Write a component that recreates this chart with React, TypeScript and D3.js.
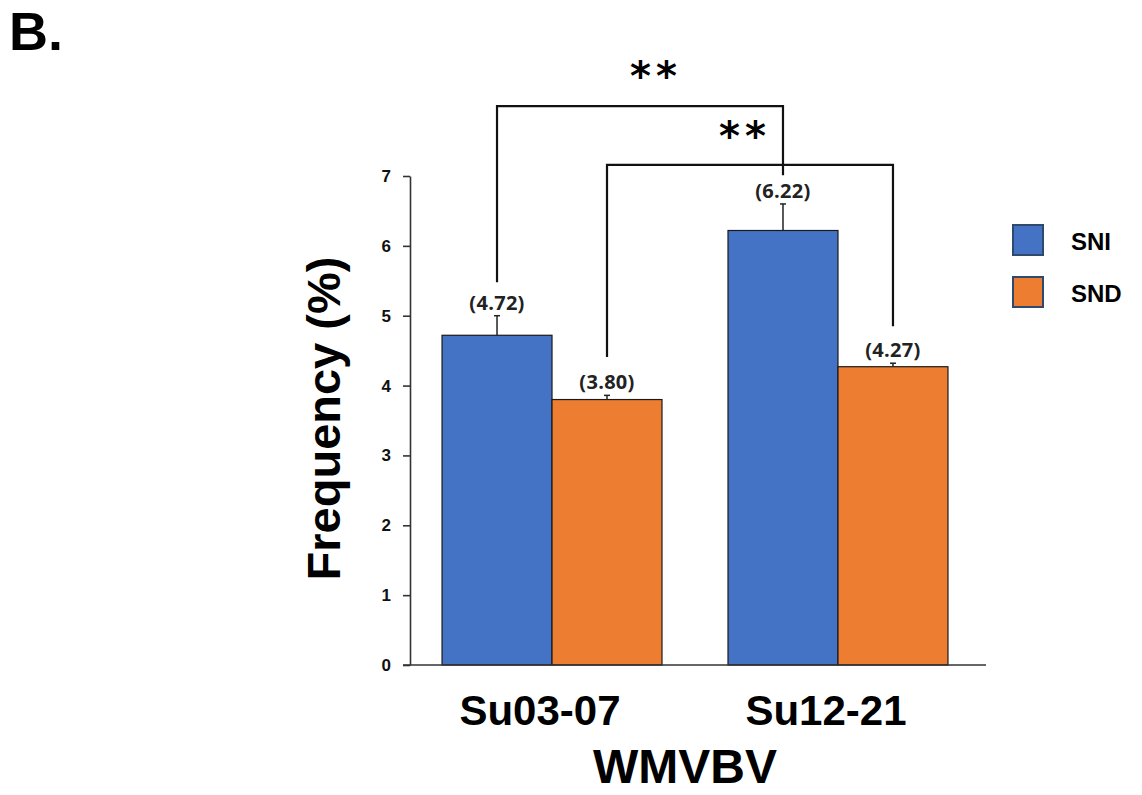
import React, { useRef, useEffect } from 'react'
import * as d3 from 'd3'

const categories = ['Su03-07', 'Su12-21']
const seriesNames = ['SNI', 'SND']
const sniValues = [4.72, 6.22]
const sndValues = [3.80, 4.27]
const sniErrors = [0.28, 0.38]
const sndErrors = [0.06, 0.05]
const yTicks = [0, 1, 2, 3, 4, 5, 6, 7]
const colors = ['#4472C4', '#ED7D31']

export default function App() {
    const ref = useRef<SVGSVGElement | null>(null)
    const w = 1142
    const h = 795

    useEffect(() => {
        document.body.style.margin = '0'
        const svg = d3.select(ref.current)
        svg.selectAll('*').remove()

        const x0 = d3.scaleBand()
            .domain(categories)
            .range([410, 980])
            .paddingInner(0.2308)
            .paddingOuter(0.112)
        const x1 = d3.scaleBand()
            .domain(seriesNames)
            .range([0, x0.bandwidth()])
        const y = d3.scaleLinear().domain([0, 7]).range([665, 176])

        const rows = seriesNames.flatMap((s, si) => categories.map((c, ci) => ({
            cat: c,
            series: s,
            si,
            value: si === 0 ? sniValues[ci] : sndValues[ci],
            err: si === 0 ? sniErrors[ci] : sndErrors[ci],
        })))
        const cx = (c: string, s: string) => (x0(c) as number) + (x1(s) as number) + x1.bandwidth() / 2

        // "B." panel letter
        svg.append('text')
            .attr('x', 9)
            .attr('y', 50)
            .style('font', 'bold 54px "Liberation Sans", Arial, sans-serif')
            .text('B.')

        // bars
        svg.append('g').selectAll('rect')
            .data(rows)
            .enter()
            .append('rect')
            .attr('x', d => (x0(d.cat) as number) + (x1(d.series) as number))
            .attr('y', d => y(d.value))
            .attr('width', x1.bandwidth())
            .attr('height', d => y(0) - y(d.value))
            .attr('fill', d => colors[d.si])
            .attr('stroke', '#1a1a1a')
            .attr('stroke-width', 1.2)

        // error bars
        const eb = svg.append('g').attr('stroke', '#222').attr('stroke-width', 1.5)
        rows.forEach(d => {
            const xc = cx(d.cat, d.series)
            eb.append('line').attr('x1', xc).attr('x2', xc).attr('y1', y(d.value)).attr('y2', y(d.value + d.err))
            eb.append('line').attr('x1', xc - 3).attr('x2', xc + 3).attr('y1', y(d.value + d.err)).attr('y2', y(d.value + d.err))
        })

        // value labels
        svg.append('g').selectAll('text')
            .data(rows)
            .enter()
            .append('text')
            .attr('x', d => cx(d.cat, d.series))
            .attr('y', d => y(d.value + d.err) - 6)
            .attr('text-anchor', 'middle')
            .style('font', 'bold 20px "Open Sans", sans-serif')
            .style('letter-spacing', '0.3px')
            .attr('fill', '#222')
            .text(d => `(${d.value.toFixed(2)})`)

        // axes
        const yAxis = d3.axisLeft(y)
            .tickValues(yTicks)
            .tickFormat(d3.format('d'))
            .tickSize(7)
            .tickSizeOuter(0)
            .tickPadding(12)
        const ga = svg.append('g').attr('transform', 'translate(410,0)').call(yAxis)
        ga.selectAll('path, line').attr('stroke', '#333').attr('stroke-width', 1.6)
        ga.selectAll('text')
            .style('font', 'bold 17px "Liberation Sans", Arial, sans-serif')
            .attr('fill', '#111')

        svg.append('line')
            .attr('x1', 403).attr('x2', 986)
            .attr('y1', y(0)).attr('y2', y(0))
            .attr('stroke', '#333').attr('stroke-width', 1.6)

        // category labels
        svg.append('g').selectAll('text')
            .data(categories)
            .enter()
            .append('text')
            .attr('x', d => (x0(d) as number) + x0.bandwidth() / 2 - 12)
            .attr('y', 725)
            .attr('text-anchor', 'middle')
            .style('font', 'bold 42px "Liberation Sans", Arial, sans-serif')
            .text(d => d)

        svg.append('text')
            .attr('x', 685)
            .attr('y', 783)
            .attr('text-anchor', 'middle')
            .style('font', 'bold 48px "Liberation Sans", Arial, sans-serif')
            .text('WMVBV')

        svg.append('text')
            .attr('transform', `translate(340,${(y(0) + y(7)) / 2 - 2}) rotate(-90)`)
            .attr('text-anchor', 'middle')
            .style('font', 'bold 47px "Liberation Sans", Arial, sans-serif')
            .text('Frequency (%)')

        // significance brackets (heights in axis units)
        const brackets = [
            { a: [0, 'SNI'], b: [1, 'SNI'], top: 8.0, leftEnd: 5.48, rightEnd: 7.01, starX: 656, starY: 8.23 },
            { a: [0, 'SND'], b: [1, 'SND'], top: 7.16, leftEnd: 4.41, rightEnd: 4.85, starX: 745, starY: 7.37 },
        ]
        brackets.forEach(bk => {
            const xa = cx(categories[bk.a[0] as number], bk.a[1] as string)
            const xb = cx(categories[bk.b[0] as number], bk.b[1] as string)
            svg.append('path')
                .attr('d', `M${xa},${y(bk.leftEnd)}V${y(bk.top)}H${xb}V${y(bk.rightEnd)}`)
                .attr('fill', 'none')
                .attr('stroke', '#111')
                .attr('stroke-width', 2.2)
            svg.append('text')
                .attr('x', bk.starX)
                .attr('y', y(bk.starY))
                .attr('text-anchor', 'middle')
                .style('font', 'bold 40px "DejaVu Sans", sans-serif')
                .style('letter-spacing', '5px')
                .text('**')
        })

        // legend
        const lg = svg.append('g').selectAll('g')
            .data(seriesNames)
            .enter()
            .append('g')
            .attr('transform', (d, i) => `translate(1013,${225 + i * 52})`)
        lg.append('rect')
            .attr('width', 30).attr('height', 30)
            .attr('fill', (d, i) => colors[i])
            .attr('stroke', '#2F4A6E')
            .attr('stroke-width', 2)
        lg.append('text')
            .attr('x', 58)
            .attr('y', 25)
            .style('font', 'bold 24px "Liberation Sans", Arial, sans-serif')
            .text(d => d)
    }, [])

    return (
        <div className="parent">
            <svg ref={ref} width={w} height={h} style={{ display: 'block', background: '#fff' }} />
        </div>
    )
}
